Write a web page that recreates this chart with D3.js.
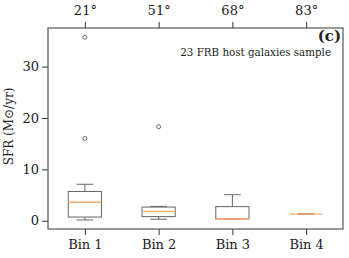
<!DOCTYPE html>
<html>
<head>
<meta charset="utf-8">
<script src="https://cdn.jsdelivr.net/npm/d3@7"></script>
<style>
  body { margin: 0; background: #fff; }
  text { font-family: "DejaVu Serif", serif; fill: #222; }
</style>
</head>
<body>
<svg id="chart" width="349" height="258"></svg>
<script>
// bins and top-axis angles
const bins = ["Bin 1", "Bin 2", "Bin 3", "Bin 4"];
const angles = ["21°", "51°", "68°", "83°"];

// box statistics (SFR, Msun/yr)
const whiskerLow = [0.15, 0.3, 0.35, 1.3];
const q1 = [0.73, 0.81, 0.35, 1.3];
const median = [3.6, 1.84, 0.35, 1.3];
const q3 = [5.7, 2.67, 2.75, 1.3];
const whiskerHigh = [7.1, 2.8, 5.07, 1.3];
const outliers = [[16.0, 35.7], [18.3], [], []];

const yTicks = [0, 10, 20, 30];

const margin = { top: 28, right: 6, bottom: 29, left: 48 };
const width = 349 - margin.left - margin.right;
const height = 258 - margin.top - margin.bottom;

const svg = d3.select("#chart")
    .append("g")
    .attr("transform", `translate(${margin.left}, ${margin.top})`);

const x = d3.scaleLinear().domain([0.5, 4.5]).range([0, width]);
const y = d3.scaleLinear().domain([-1.6, 37.5]).range([height, 0]);

const boxW = x(1.45) - x(1);
const capW = boxW / 2;

// axes
const xAxis = d3.axisBottom(x).tickValues([1, 2, 3, 4])
    .tickFormat((d, i) => bins[i]).tickSize(6).tickPadding(5);
const xTop = d3.axisTop(x).tickValues([1, 2, 3, 4])
    .tickFormat((d, i) => angles[i]).tickSize(6).tickPadding(7);
const yAxis = d3.axisLeft(y).tickValues(yTicks).tickSize(6).tickPadding(3);

function styleAxis(g) {
    g.select(".domain").remove();
    g.selectAll("line").attr("stroke", "#333").attr("stroke-width", 1);
    g.selectAll("text").style("font-size", "13px").style("font-family", "DejaVu Serif").attr("fill", "#222");
}

svg.append("g").attr("transform", `translate(0, ${height})`).call(xAxis).call(styleAxis);
svg.append("g").call(xTop).call(styleAxis);
svg.append("g").call(yAxis).call(styleAxis);

// frame
svg.append("rect")
    .attr("x", 0).attr("y", 0)
    .attr("width", width).attr("height", height)
    .attr("fill", "none")
    .attr("stroke", "#555")
    .attr("stroke-width", 1.2);

const boxColor = "#666";
const bx = d3.range(bins.length);

const boxes = svg.selectAll(".box")
    .data(bx)
    .join("g")
    .attr("class", "box");

// whiskers
boxes.append("line")
    .attr("x1", i => x(i + 1)).attr("x2", i => x(i + 1))
    .attr("y1", i => y(q3[i])).attr("y2", i => y(whiskerHigh[i]))
    .attr("stroke", boxColor);
boxes.append("line")
    .attr("x1", i => x(i + 1)).attr("x2", i => x(i + 1))
    .attr("y1", i => y(q1[i])).attr("y2", i => y(whiskerLow[i]))
    .attr("stroke", boxColor);

// caps
boxes.append("line")
    .attr("x1", i => x(i + 1) - capW / 2).attr("x2", i => x(i + 1) + capW / 2)
    .attr("y1", i => y(whiskerHigh[i])).attr("y2", i => y(whiskerHigh[i]))
    .attr("stroke", boxColor);
boxes.append("line")
    .attr("x1", i => x(i + 1) - capW / 2).attr("x2", i => x(i + 1) + capW / 2)
    .attr("y1", i => y(whiskerLow[i])).attr("y2", i => y(whiskerLow[i]))
    .attr("stroke", boxColor);

// box
boxes.append("rect")
    .attr("x", i => x(i + 1) - boxW / 2)
    .attr("width", boxW)
    .attr("y", i => y(q3[i]))
    .attr("height", i => y(q1[i]) - y(q3[i]))
    .attr("fill", "none")
    .attr("stroke", boxColor);

// median
boxes.append("line")
    .attr("x1", i => x(i + 1) - boxW / 2).attr("x2", i => x(i + 1) + boxW / 2)
    .attr("y1", i => y(median[i])).attr("y2", i => y(median[i]))
    .attr("stroke", "#fbab6e")
    .attr("stroke-width", 1.3);

// fliers
boxes.selectAll(".flier")
    .data(i => outliers[i].map(v => ({ i: i, v: v })))
    .join("circle")
    .attr("class", "flier")
    .attr("cx", d => x(d.i + 1))
    .attr("cy", d => y(d.v))
    .attr("r", 2)
    .attr("fill", "none")
    .attr("stroke", "#444")
    .attr("stroke-width", 0.8);

// labels
svg.append("text")
    .attr("x", width - 2).attr("y", 13)
    .attr("text-anchor", "end")
    .style("font-size", "15px")
    .style("font-weight", "bold")
    .text("(c)");

svg.append("text")
    .attr("x", width - 12).attr("y", 28)
    .attr("text-anchor", "end")
    .style("font-size", "10.3px")
    .text("23 FRB host galaxies sample");

svg.append("text")
    .attr("transform", `translate(${-35}, ${height / 2 - 2}) rotate(-90)`)
    .attr("text-anchor", "middle")
    .style("font-size", "12px")
    .text("SFR (M⊙/yr)");
</script>
</body>
</html>
